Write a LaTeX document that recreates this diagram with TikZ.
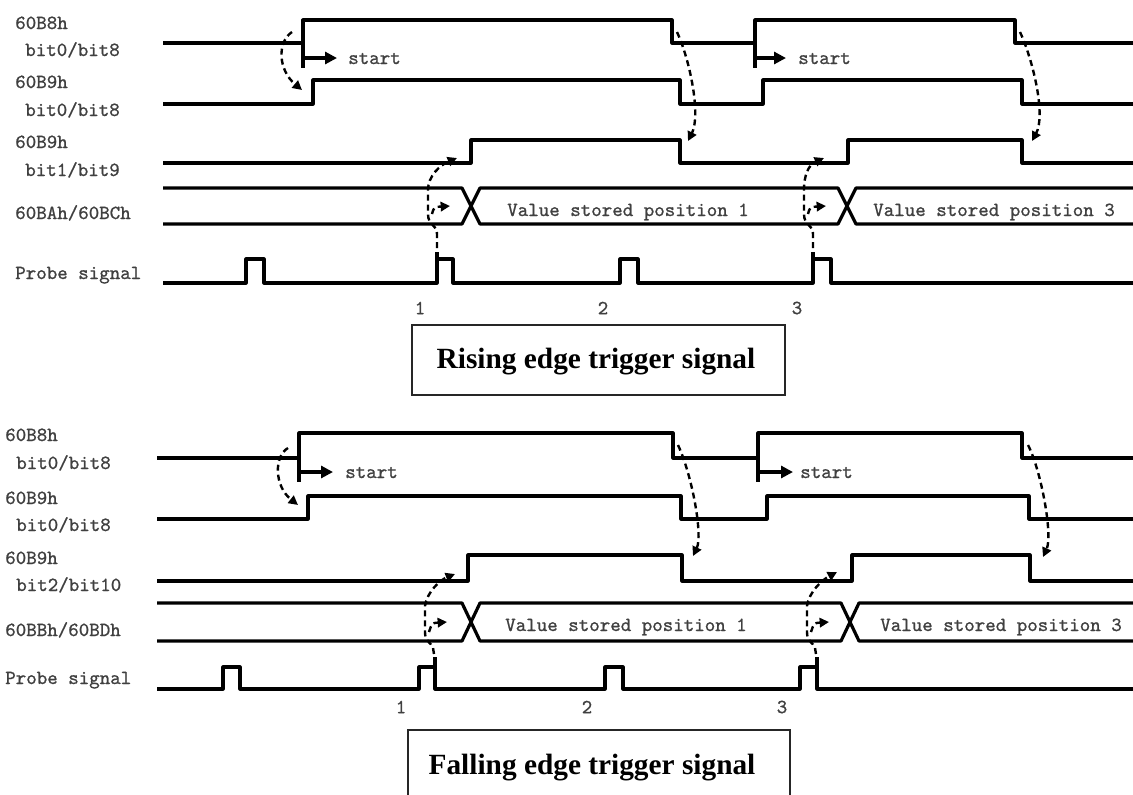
\documentclass[tikz,border=0pt]{standalone}
\usepackage{fontspec}
\newfontfamily\titlefont{Liberation Serif}
\newfontfamily\lblfont{lmmono10-regular.otf}[FakeBold=0.9]
\usetikzlibrary{arrows.meta}
\begin{document}
\begin{tikzpicture}[x=0.75pt,y=-0.75pt,
  sig/.style={line width=2.4pt, line join=round},
  tick/.style={line width=2.4pt},
  dsh/.style={line width=1.8pt, dash pattern=on 4.5pt off 3pt, -{Triangle[length=7pt,width=7pt]}},
  startarr/.style={line width=2.4pt,-{Triangle[length=9pt,width=9pt]}},
  lbl/.style={font=\fontsize{15}{15}\selectfont\lblfont, text=black!75, inner sep=0pt, anchor=base west},
  num/.style={font=\fontsize{15}{15}\selectfont\lblfont, text=black!75, inner sep=0pt},
  titletext/.style={font=\titlefont\bfseries\fontsize{22}{22}\selectfont, inner sep=0pt},
  boxline/.style={line width=1.6pt, draw=black!85}
]
\useasboundingbox (0,0) rectangle (1133,794);

% ================= TOP: rising edge =================
\node[lbl] (t1a) at (15,29) {60B8h};
\node[lbl] (t1b) at (25,56) {bit0/bit8};
\node[lbl] (t2a) at (15,88) {60B9h};
\node[lbl] (t2b) at (25,116) {bit0/bit8};
\node[lbl] (t3a) at (15,148) {60B9h};
\node[lbl] (t3b) at (25,176) {bit1/bit9};
\node[lbl] (t4) at (15,219) {60BAh/60BCh};
\node[lbl] (t5) at (15,279) {Probe signal};

% row 1
\draw[sig] (163,43) -- (303,43) -- (303,20) -- (672,20) -- (672,43) -- (755,43) -- (755,20) -- (1015,20) -- (1015,43) -- (1133,43);
\draw[tick] (303,43) -- (303,68);
\draw[tick] (755,43) -- (755,68);
\draw[startarr] (303,58) -- (337,58);
\draw[startarr] (755,58) -- (786,58);
\node[lbl] (ts1) at (348,64) {start};
\node[lbl] (ts2) at (798,64) {start};
% row 2
\draw[sig] (163,104) -- (313,104) -- (313,80) -- (680,80) -- (680,104) -- (763,104) -- (763,80) -- (1022,80) -- (1022,104) -- (1133,104);
% row 3
\draw[sig] (163,163) -- (471,163) -- (471,140) -- (680,140) -- (680,163) -- (848,163) -- (848,140) -- (1022,140) -- (1022,163) -- (1133,163);
% bus
\draw[sig] (163,188) -- (462,188) -- (480,224) -- (838,224) -- (856,188) -- (1133,188);
\draw[sig] (163,224) -- (462,224) -- (480,188) -- (838,188) -- (856,224) -- (1133,224);
\node[lbl] (tv1) at (507,216) {Value stored position 1};
\node[lbl] (tv3) at (873,216) {Value stored position 3};
% probe
\draw[sig] (163,283) -- (246,283) -- (246,259) -- (264,259) -- (264,283) -- (437,283) -- (437,259) -- (453,259) -- (453,283) -- (620,283) -- (620,259) -- (638,259) -- (638,283) -- (813,283) -- (813,259) -- (831,259) -- (831,283) -- (1133,283);
\draw[tick] (437,259) -- (437,252);
\draw[tick] (813,259) -- (813,252);
\node[num] (tn1) at (420,308) {1};
\node[num] (tn2) at (603,308) {2};
\node[num] (tn3) at (797,308) {3};

% dashed causal arrows
\draw[dsh] (292,32) .. controls (277,42) and (278,70) .. (302,90);
\draw[dsh] (677,32) .. controls (690,60) and (701,115) .. (688,141);
\draw[dsh] (1020,32) .. controls (1033,60) and (1046,115) .. (1032,141);
\draw[dsh] (437,248) -- (437,234) .. controls (437,224) and (428,226) .. (428,214) -- (428,190) .. controls (428,176) and (440,165) .. (457,158);
\draw[dsh] (432,214) .. controls (434,207) .. (450,206);
\draw[dsh] (813,248) -- (813,234) .. controls (813,224) and (804,226) .. (804,214) -- (804,190) .. controls (804,176) and (808,165) .. (824,158);
\draw[dsh] (808,214) .. controls (810,207) .. (826,206);

% title box
\draw[boxline] (412,325) rectangle (785,395);
\node[titletext] (ttitle) at (596,362) {Rising edge trigger signal};

% ================= BOTTOM: falling edge =================
\node[lbl] (b1a) at (5,441) {60B8h};
\node[lbl] (b1b) at (16,469) {bit0/bit8};
\node[lbl] (b2a) at (5,504) {60B9h};
\node[lbl] (b2b) at (16,531) {bit0/bit8};
\node[lbl] (b3a) at (5,564) {60B9h};
\node[lbl] (b3b) at (16,591) {bit2/bit10};
\node[lbl] (b4) at (5,636) {60BBh/60BDh};
\node[lbl] (b5) at (5,684) {Probe signal};

% row 1
\draw[sig] (157,458) -- (299,458) -- (299,433) -- (673,433) -- (673,458) -- (758,458) -- (758,433) -- (1022,433) -- (1022,458) -- (1133,458);
\draw[tick] (299,458) -- (299,482);
\draw[tick] (758,458) -- (758,482);
\draw[startarr] (299,472) -- (333,472);
\draw[startarr] (758,472) -- (793,472);
\node[lbl] (bs1) at (345,478) {start};
\node[lbl] (bs2) at (800,478) {start};
% row 2
\draw[sig] (157,519) -- (308,519) -- (308,496) -- (681,496) -- (681,519) -- (767,519) -- (767,496) -- (1029,496) -- (1029,519) -- (1133,519);
% row 3
\draw[sig] (157,581) -- (468,581) -- (468,555) -- (682,555) -- (682,581) -- (852,581) -- (852,555) -- (1030,555) -- (1030,581) -- (1133,581);
% bus
\draw[sig] (157,603) -- (462,603) -- (480,641) -- (841,641) -- (859,603) -- (1133,603);
\draw[sig] (157,641) -- (462,641) -- (480,603) -- (841,603) -- (859,641) -- (1133,641);
\node[lbl] (bv1) at (505,631) {Value stored position 1};
\node[lbl] (bv3) at (880,631) {Value stored position 3};
% probe
\draw[sig] (157,689) -- (223,689) -- (223,667) -- (240,667) -- (240,689) -- (419,689) -- (419,667) -- (435,667) -- (435,689) -- (605,689) -- (605,667) -- (623,667) -- (623,689) -- (800,689) -- (800,667) -- (817,667) -- (817,689) -- (1133,689);
\draw[tick] (435,667) -- (435,657);
\draw[tick] (817,667) -- (817,657);
\node[num] (bn1) at (401,707) {1};
\node[num] (bn2) at (587,707) {2};
\node[num] (bn3) at (782,707) {3};

% dashed causal arrows
\draw[dsh] (288,448) .. controls (274,456) and (274,486) .. (298,505);
\draw[dsh] (678,445) .. controls (692,475) and (703,535) .. (693,556);
\draw[dsh] (1028,445) .. controls (1041,470) and (1053,535) .. (1043,557);
\draw[dsh] (434,654) -- (433,648) .. controls (431,642) and (425,642) .. (425,632) -- (425,606) .. controls (427,592) and (440,580) .. (455,574);
\draw[dsh] (429,632) .. controls (432,623) .. (447,622);
\draw[dsh] (816,654) -- (815,648) .. controls (813,642) and (807,642) .. (807,632) -- (807,606) .. controls (809,592) and (822,580) .. (837,572);
\draw[dsh] (811,632) .. controls (814,623) .. (829,622);

% title box (bottom edge falls outside the picture)
\draw[boxline] (408,805) -- (408,730) -- (790,730) -- (790,805);
\node[titletext] (btitle) at (592,768) {Falling edge trigger signal};
\end{tikzpicture}
\end{document}
